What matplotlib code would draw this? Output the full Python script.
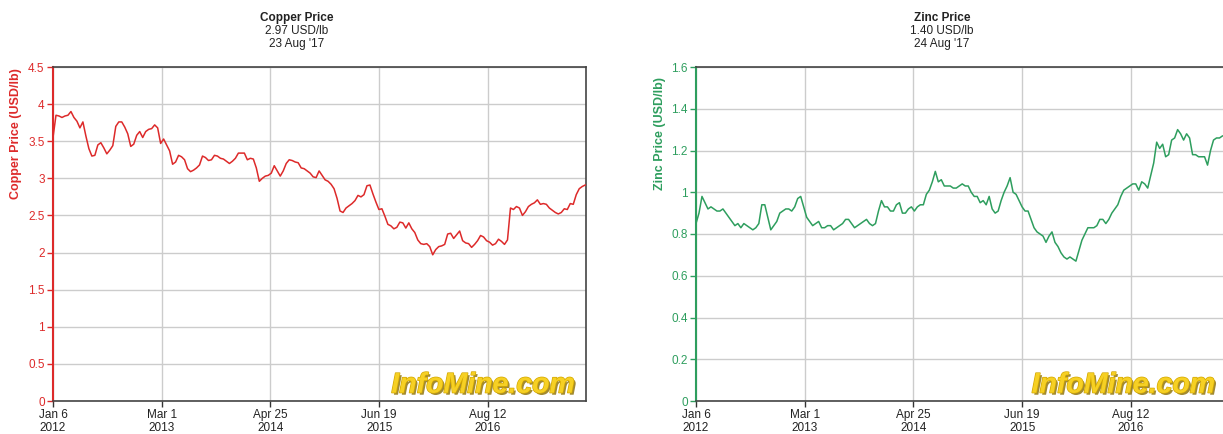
"""
Copper and zinc price history, side by side (InfoMine style).
"""
import matplotlib
matplotlib.use("Agg")
import matplotlib.pyplot as plt
import matplotlib.patheffects as pe
import pandas as pd

# evenly spaced readings from 2012-01-06 to the last quote
copper_price = [
    3.55, 3.85, 3.84, 3.82, 3.84, 3.85, 3.90, 3.82, 3.77, 3.68,
    3.76, 3.57, 3.40, 3.30, 3.31, 3.45, 3.48, 3.41, 3.33, 3.38,
    3.44, 3.70, 3.76, 3.76, 3.69, 3.60, 3.43, 3.46, 3.58, 3.63,
    3.55, 3.63, 3.66, 3.67, 3.72, 3.68, 3.47, 3.53, 3.45, 3.37,
    3.19, 3.22, 3.31, 3.29, 3.25, 3.13,
    3.09, 3.11, 3.14, 3.18, 3.30, 3.28, 3.24, 3.25, 3.31, 3.30,
    3.27, 3.26, 3.23, 3.20, 3.23, 3.27, 3.34, 3.34, 3.34, 3.25,
    3.27, 3.26, 3.14, 2.96, 3.00, 3.03, 3.04, 3.07, 3.17, 3.10,
    3.03, 3.10, 3.20, 3.25, 3.24, 3.22, 3.21, 3.14, 3.13, 3.10,
    3.07, 3.02, 3.01, 3.10, 3.04,
    2.98, 2.96, 2.92, 2.86, 2.73, 2.56, 2.54, 2.60, 2.63, 2.66,
    2.70, 2.77, 2.75, 2.78, 2.90, 2.91, 2.79, 2.68, 2.58, 2.59,
    2.49, 2.38, 2.36, 2.32, 2.34, 2.41, 2.40, 2.33, 2.40, 2.32,
    2.27, 2.17, 2.12, 2.11, 2.12, 2.08, 1.97, 2.04, 2.08, 2.09,
    2.11, 2.25, 2.26, 2.19, 2.24,
    2.29, 2.16, 2.13, 2.12, 2.07, 2.11, 2.16, 2.23, 2.21, 2.16,
    2.14, 2.10, 2.12, 2.18, 2.15, 2.11, 2.17, 2.60, 2.58, 2.62,
    2.60, 2.50, 2.55, 2.62, 2.65, 2.67, 2.71, 2.65, 2.66, 2.65,
    2.60, 2.57, 2.54, 2.52, 2.54, 2.59, 2.58, 2.66, 2.65, 2.78,
    2.86, 2.89, 2.91,
]

zinc_price = [
    0.85, 0.90, 0.98, 0.95, 0.92, 0.93, 0.92, 0.91, 0.91, 0.92,
    0.90, 0.88, 0.86, 0.84, 0.85, 0.83, 0.85, 0.84, 0.83, 0.82,
    0.83, 0.85, 0.94, 0.94, 0.88, 0.82, 0.84, 0.86, 0.90, 0.91,
    0.92, 0.92, 0.91, 0.93, 0.97, 0.98, 0.93, 0.88, 0.86, 0.84,
    0.85, 0.86, 0.83, 0.83, 0.84, 0.84, 0.82, 0.83, 0.84, 0.85,
    0.87, 0.87, 0.85, 0.83, 0.84, 0.85, 0.86, 0.87, 0.85, 0.84,
    0.85, 0.91, 0.96, 0.93, 0.93, 0.91, 0.91, 0.94, 0.95, 0.90,
    0.90, 0.92, 0.93, 0.91, 0.93, 0.94, 0.94, 0.99, 1.01, 1.05,
    1.10, 1.05, 1.06, 1.03, 1.03, 1.03, 1.02, 1.02, 1.03, 1.04,
    1.03, 1.03, 1.00, 0.98, 0.98, 0.95, 0.96, 0.94, 0.98, 0.92,
    0.90, 0.91, 0.96, 1.00, 1.03, 1.07, 1.00, 0.99, 0.96, 0.93,
    0.91, 0.91, 0.87, 0.83, 0.81, 0.80, 0.79, 0.76, 0.79, 0.81,
    0.76, 0.74, 0.71, 0.69, 0.68, 0.69, 0.68, 0.67, 0.72, 0.77,
    0.80, 0.83, 0.83, 0.83, 0.84, 0.87, 0.87, 0.85, 0.87, 0.90,
    0.92, 0.94, 0.98, 1.01, 1.02, 1.03, 1.04, 1.04, 1.01, 1.05,
    1.04, 1.02, 1.08, 1.14, 1.24, 1.21, 1.23, 1.17, 1.18, 1.25,
    1.26, 1.30, 1.28, 1.25, 1.28, 1.26, 1.18, 1.18, 1.17, 1.17,
    1.17, 1.13, 1.20, 1.25, 1.26, 1.26, 1.27, 1.27, 1.27,
]

start_date = "2012-01-06"
copper_last = "2017-08-23"
zinc_last = "2017-08-24"
axis_end = "2017-08-26"

tick_dates = ["2012-01-06", "2013-03-01", "2014-04-25", "2015-06-19", "2016-08-12"]
tick_labels = ["Jan 6\n2012", "Mar 1\n2013", "Apr 25\n2014", "Jun 19\n2015", "Aug 12\n2016"]

copper_yticks = [0, 0.5, 1, 1.5, 2, 2.5, 3, 3.5, 4, 4.5]
copper_ylabels = ["0", "0.5", "1", "1.5", "2", "2.5", "3", "3.5", "4", "4.5"]
zinc_yticks = [0, 0.2, 0.4, 0.6, 0.8, 1.0, 1.2, 1.4, 1.6]
zinc_ylabels = ["0", "0.2", "0.4", "0.6", "0.8", "1", "1.2", "1.4", "1.6"]

plt.rcParams["font.family"] = ["Liberation Sans", "DejaVu Sans"]

W, H = 1223, 434
fig = plt.figure(figsize=(W / 100, H / 100), dpi=100)


def draw_panel(rect, values, last_date, color, yticks, ylabels, ymax,
               ylabel, title_lines, title_x, wm_x, label_x):
    ax = fig.add_axes(rect)
    dates = pd.date_range(start_date, last_date, periods=len(values))
    ax.plot(dates, values, color=color, lw=1.1, zorder=3)

    ax.set_xlim(pd.Timestamp(start_date), pd.Timestamp(axis_end))
    ax.set_ylim(0, ymax)
    ax.set_xticks([pd.Timestamp(d) for d in tick_dates])
    ax.set_xticklabels(tick_labels, fontsize=8.5, color="#222222", linespacing=1.15)
    ax.set_yticks(yticks)
    ax.set_yticklabels(ylabels, fontsize=8.5, color=color)

    ax.grid(True, color="#cccccc", lw=1.0, zorder=0)
    ax.tick_params(axis="x", length=4, width=1, color="#333333", pad=1.5)
    ax.tick_params(axis="y", length=4, width=1, color=color, pad=2)

    for side in ("top", "right", "bottom"):
        ax.spines[side].set_color("#444444")
        ax.spines[side].set_linewidth(1.2)
    ax.spines["left"].set_color(color)
    ax.spines["left"].set_linewidth(1.5)

    ax.set_ylabel(ylabel, fontsize=9, fontweight="bold", color=color)
    ax.yaxis.set_label_coords(label_x, 0.80)

    # titles above the plot
    fig.text(title_x, 1 - 18 / H, title_lines[0], ha="center", va="center",
             fontsize=8.5, fontweight="bold", color="#222222")
    fig.text(title_x, 1 - 31 / H, title_lines[1], ha="center", va="center",
             fontsize=8.5, color="#222222")
    fig.text(title_x, 1 - 44 / H, title_lines[2], ha="center", va="center",
             fontsize=8.5, color="#222222")

    # watermark
    ax.text(wm_x, 0.025, "InfoMine.com", transform=ax.transAxes,
            ha="right", va="baseline", fontsize=20.5, fontweight="bold",
            fontstyle="italic", color="#f6d024", zorder=4,
            path_effects=[pe.withSimplePatchShadow(offset=(1.5, -1.5),
                                                   shadow_rgbFace="#8a6d00",
                                                   alpha=0.8),
                          pe.withStroke(linewidth=1.0, foreground="#d4a800")])
    return ax


draw_panel([53 / W, 33 / H, 533 / W, 334 / H], copper_price, copper_last,
           "#dd2a2a", copper_yticks, copper_ylabels, 4.5,
           "Copper Price (USD/lb)",
           ["Copper Price", "2.97 USD/lb", "23 Aug '17"],
           297 / W, 0.979, -0.058)

draw_panel([696 / W, 33 / H, 533 / W, 334 / H], zinc_price, zinc_last,
           "#2e9e5e", zinc_yticks, zinc_ylabels, 1.6,
           "Zinc Price (USD/lb)",
           ["Zinc Price", "1.40 USD/lb", "24 Aug '17"],
           942 / W, 0.974, -0.056)

fig.savefig("out.png", dpi=100)
plt.close(fig)
